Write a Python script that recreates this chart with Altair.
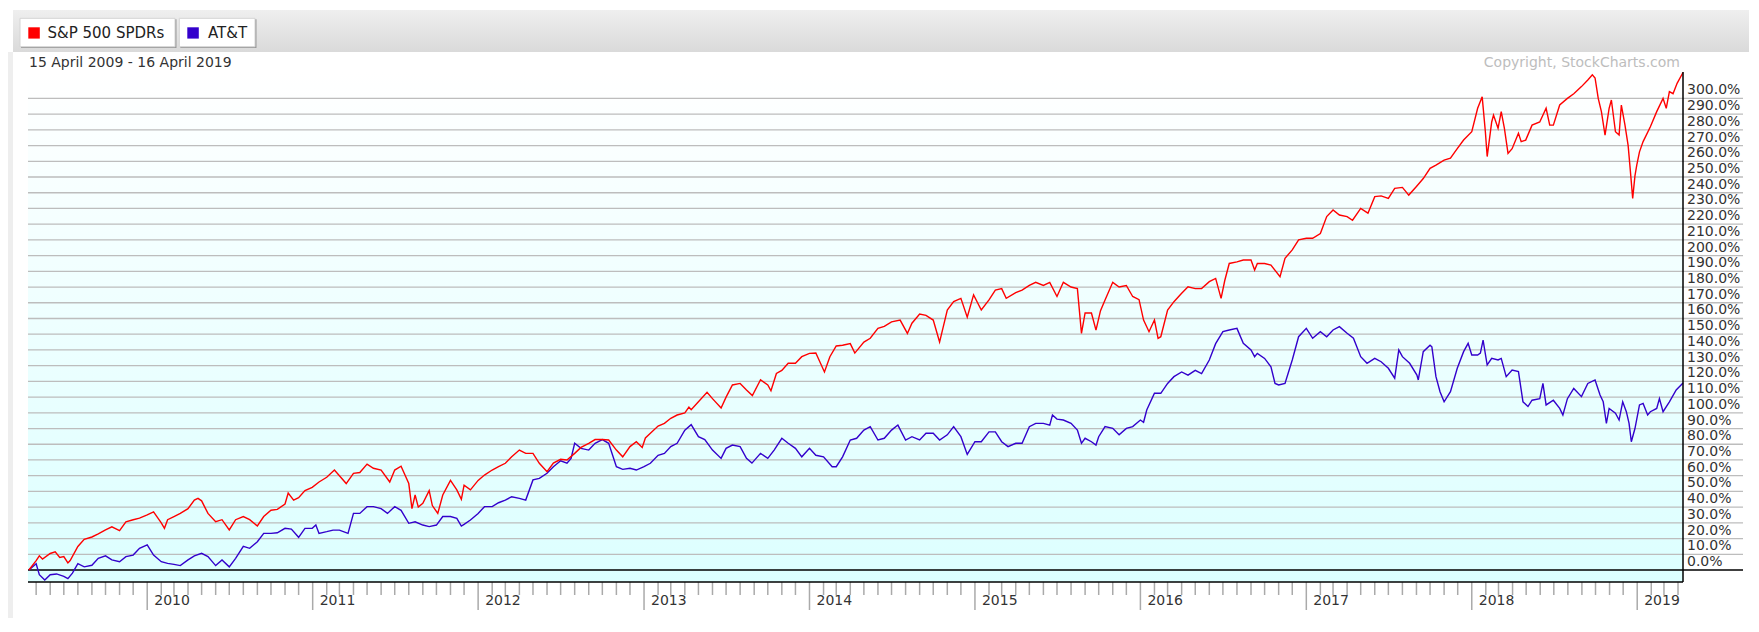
import altair as alt
import pandas as pd

# ---------------- data (percent change since 15 April 2009) ----------------
spx = [
    ("2009-04-15", 0), ("2009-05-01", 6), ("2009-05-08", 9), ("2009-05-15", 7), ("2009-06-01", 10.5),
    ("2009-06-12", 11.5), ("2009-06-22", 8), ("2009-07-01", 8.5), ("2009-07-10", 4.5), ("2009-07-15", 6),
    ("2009-08-01", 15), ("2009-08-15", 19.5), ("2009-09-01", 21), ("2009-09-15", 23), ("2009-10-01", 25.5),
    ("2009-10-15", 27.5), ("2009-11-01", 25), ("2009-11-15", 30.7), ("2009-12-01", 32), ("2009-12-15", 33),
    ("2010-01-01", 35), ("2010-01-15", 37), ("2010-02-01", 30), ("2010-02-08", 26.5), ("2010-02-15", 32),
    ("2010-03-01", 34), ("2010-03-15", 36), ("2010-04-01", 39), ("2010-04-15", 44.5), ("2010-04-23", 45.6),
    ("2010-05-01", 44), ("2010-05-15", 36), ("2010-06-01", 30.7), ("2010-06-15", 32), ("2010-07-01", 25.5),
    ("2010-07-15", 32), ("2010-08-01", 34), ("2010-08-15", 32), ("2010-09-01", 28), ("2010-09-15", 34),
    ("2010-10-01", 38), ("2010-10-15", 38.6), ("2010-11-01", 42), ("2010-11-08", 49), ("2010-11-20", 44.5),
    ("2010-12-01", 46), ("2010-12-15", 50.5), ("2010-12-31", 52.6),
    ("2011-01-15", 56), ("2011-02-01", 59), ("2011-02-18", 63.6), ("2011-03-01", 60), ("2011-03-16", 55),
    ("2011-04-01", 61.5), ("2011-04-15", 62), ("2011-05-01", 67.4), ("2011-05-15", 64.7), ("2011-06-01", 63.6),
    ("2011-06-20", 56), ("2011-07-01", 63.6), ("2011-07-15", 66), ("2011-08-01", 55), ("2011-08-08", 39),
    ("2011-08-15", 47.7), ("2011-08-22", 40), ("2011-09-01", 42.4), ("2011-09-15", 50.5), ("2011-09-22", 41),
    ("2011-10-04", 36), ("2011-10-15", 47.7), ("2011-11-01", 57), ("2011-11-15", 51), ("2011-11-25", 45),
    ("2011-12-01", 54), ("2011-12-15", 51),
    ("2012-01-01", 57), ("2012-01-15", 60.4), ("2012-02-01", 63.6), ("2012-02-15", 65.7), ("2012-03-01", 67.9),
    ("2012-03-15", 72), ("2012-04-01", 76.3), ("2012-04-15", 74.2), ("2012-05-01", 74.2), ("2012-05-15", 67.9),
    ("2012-06-01", 62.5), ("2012-06-15", 68), ("2012-07-01", 70.4), ("2012-07-15", 70), ("2012-08-01", 74.2),
    ("2012-08-15", 78), ("2012-09-01", 80.6), ("2012-09-15", 83), ("2012-10-01", 83), ("2012-10-15", 82.7),
    ("2012-11-01", 76.3), ("2012-11-15", 72), ("2012-12-01", 78.5), ("2012-12-15", 81.6), ("2012-12-28", 78),
    ("2013-01-04", 84), ("2013-01-15", 87), ("2013-02-01", 91.6), ("2013-02-15", 93.3), ("2013-03-01", 96.5),
    ("2013-03-15", 98.6), ("2013-04-01", 100), ("2013-04-10", 103.6), ("2013-04-15", 102), ("2013-05-01", 107),
    ("2013-05-20", 113), ("2013-06-01", 109), ("2013-06-20", 103), ("2013-07-01", 110), ("2013-07-15", 117.7),
    ("2013-08-01", 118.7), ("2013-08-15", 114.5), ("2013-08-28", 111), ("2013-09-15", 121), ("2013-10-01", 117.7),
    ("2013-10-08", 114), ("2013-10-20", 125), ("2013-11-01", 127), ("2013-11-15", 131.5), ("2013-12-01", 131.5),
    ("2013-12-15", 135.7),
    ("2014-01-01", 137.8), ("2014-01-15", 138), ("2014-02-03", 126), ("2014-02-15", 135.7), ("2014-03-01", 142.5),
    ("2014-03-15", 143), ("2014-04-01", 144), ("2014-04-11", 138), ("2014-05-01", 145), ("2014-05-15", 147.4),
    ("2014-06-01", 153.7), ("2014-06-15", 155), ("2014-07-01", 157.9), ("2014-07-20", 159), ("2014-08-05", 150.5),
    ("2014-08-15", 157), ("2014-09-01", 162.8), ("2014-09-15", 162), ("2014-10-01", 159), ("2014-10-15", 145),
    ("2014-11-01", 165.4), ("2014-11-15", 170.7), ("2014-12-01", 172.8), ("2014-12-15", 160.8), ("2014-12-29", 175),
    ("2015-01-15", 165.4), ("2015-02-01", 171.8), ("2015-02-15", 178), ("2015-03-01", 179), ("2015-03-11", 172.8),
    ("2015-04-01", 176.5), ("2015-04-15", 178), ("2015-05-01", 181), ("2015-05-15", 183), ("2015-06-01", 181),
    ("2015-06-15", 183), ("2015-07-01", 174), ("2015-07-15", 183), ("2015-08-01", 180), ("2015-08-15", 179),
    ("2015-08-24", 150.5), ("2015-09-01", 163.5), ("2015-09-15", 163.5), ("2015-09-25", 152.6), ("2015-10-05", 165),
    ("2015-10-15", 171.8), ("2015-11-01", 183), ("2015-11-15", 180), ("2015-12-01", 181), ("2015-12-15", 174),
    ("2015-12-29", 172),
    ("2016-01-08", 159), ("2016-01-20", 151.6), ("2016-02-01", 159), ("2016-02-09", 147.4), ("2016-02-15", 148.4),
    ("2016-03-01", 165.4), ("2016-03-15", 170.7), ("2016-04-01", 176), ("2016-04-15", 180.2), ("2016-05-01", 179),
    ("2016-05-15", 179), ("2016-06-01", 183.4), ("2016-06-15", 185.5), ("2016-06-27", 172.8), ("2016-07-05", 184),
    ("2016-07-15", 195), ("2016-08-01", 196), ("2016-08-15", 197.2), ("2016-09-01", 197.2), ("2016-09-09", 190.8),
    ("2016-09-15", 195), ("2016-10-01", 195), ("2016-10-15", 194), ("2016-11-04", 186.6), ("2016-11-15", 198.3),
    ("2016-12-01", 203.6), ("2016-12-15", 210),
    ("2017-01-01", 211), ("2017-01-15", 211), ("2017-02-01", 214), ("2017-02-15", 224.8), ("2017-03-01", 229),
    ("2017-03-15", 225.8), ("2017-04-01", 224.8), ("2017-04-13", 222.5), ("2017-05-01", 230), ("2017-05-17", 227),
    ("2017-06-01", 237.5), ("2017-06-15", 238), ("2017-07-01", 236.4), ("2017-07-15", 242.8), ("2017-08-01", 243.4),
    ("2017-08-15", 238.5), ("2017-09-01", 244), ("2017-09-16", 249), ("2017-10-01", 255.5), ("2017-10-14", 257.6),
    ("2017-11-01", 260.8), ("2017-11-15", 262), ("2017-11-30", 268), ("2017-12-14", 273.5),
    ("2018-01-01", 278.8), ("2018-01-14", 293.7), ("2018-01-24", 301), ("2018-01-31", 278.8), ("2018-02-04", 263),
    ("2018-02-14", 285), ("2018-02-18", 289.4), ("2018-02-28", 281), ("2018-03-07", 291.6), ("2018-03-14", 281),
    ("2018-03-22", 265), ("2018-03-31", 268), ("2018-04-14", 277.8), ("2018-04-20", 272.5), ("2018-04-30", 273.5),
    ("2018-05-14", 283), ("2018-05-31", 285), ("2018-06-14", 293.7), ("2018-06-22", 283), ("2018-06-30", 283),
    ("2018-07-14", 295.8), ("2018-07-31", 300), ("2018-08-14", 303), ("2018-08-31", 307.5), ("2018-09-14", 311.7),
    ("2018-09-24", 315), ("2018-09-30", 313), ("2018-10-07", 300), ("2018-10-14", 291.6), ("2018-10-22", 276.7),
    ("2018-10-31", 293.7), ("2018-11-05", 299), ("2018-11-14", 278.8), ("2018-11-22", 276.7), ("2018-11-27", 295.8),
    ("2018-12-05", 283), ("2018-12-12", 270), ("2018-12-17", 253.4), ("2018-12-22", 236.4), ("2018-12-27", 250.7),
    ("2018-12-31", 257.6),
    ("2019-01-06", 266), ("2019-01-14", 272.5), ("2019-01-30", 282), ("2019-02-13", 291.6), ("2019-02-27", 300),
    ("2019-03-06", 293.7), ("2019-03-13", 304.3), ("2019-03-21", 303), ("2019-03-30", 309.6), ("2019-04-12", 316.5),
]

att = [
    ("2009-04-15", 0), ("2009-05-01", 4), ("2009-05-08", -3), ("2009-05-20", -6.4), ("2009-06-01", -3),
    ("2009-06-15", -2.5), ("2009-07-01", -4), ("2009-07-10", -5.5), ("2009-07-20", -2), ("2009-08-01", 4),
    ("2009-08-15", 2), ("2009-09-01", 3), ("2009-09-15", 7.4), ("2009-10-01", 9), ("2009-10-15", 6.4),
    ("2009-11-01", 5.3), ("2009-11-15", 8.5), ("2009-12-01", 9.5), ("2009-12-15", 13.8),
    ("2010-01-01", 16), ("2010-01-15", 9.5), ("2010-02-01", 5.3), ("2010-02-15", 4.2), ("2010-03-01", 3.6),
    ("2010-03-15", 2.8), ("2010-04-01", 6.4), ("2010-04-15", 9), ("2010-05-01", 10.6), ("2010-05-15", 8.5),
    ("2010-06-01", 2.8), ("2010-06-15", 6.4), ("2010-07-01", 2), ("2010-07-15", 7.4), ("2010-08-01", 15),
    ("2010-08-15", 13.8), ("2010-09-01", 18), ("2010-09-15", 23.3), ("2010-10-01", 23.3), ("2010-10-15", 23.7),
    ("2010-11-01", 26.5), ("2010-11-15", 26), ("2010-12-01", 20.8), ("2010-12-15", 26.5), ("2010-12-31", 26.5),
    ("2011-01-08", 28.6), ("2011-01-15", 23.3), ("2011-02-01", 24.4), ("2011-02-15", 25.4), ("2011-03-01", 25.4),
    ("2011-03-20", 23.3), ("2011-04-01", 36), ("2011-04-15", 36), ("2011-05-01", 40.3), ("2011-05-15", 40.3),
    ("2011-06-01", 39), ("2011-06-15", 36), ("2011-07-01", 40.3), ("2011-07-15", 38), ("2011-08-01", 29.7),
    ("2011-08-15", 30.7), ("2011-09-01", 28.6), ("2011-09-15", 27.6), ("2011-10-01", 28.6), ("2011-10-15", 34),
    ("2011-11-01", 34), ("2011-11-15", 32.9), ("2011-11-25", 28), ("2011-12-01", 29), ("2011-12-15", 31.8),
    ("2012-01-01", 36), ("2012-01-15", 40.3), ("2012-02-01", 40.3), ("2012-02-15", 42.8), ("2012-03-01", 44.5),
    ("2012-03-15", 46.6), ("2012-04-01", 45.6), ("2012-04-15", 44.5), ("2012-05-01", 57.3), ("2012-05-15", 58.3),
    ("2012-06-01", 61.5), ("2012-06-15", 65.7), ("2012-07-01", 69.5), ("2012-07-15", 67.9), ("2012-07-24", 71),
    ("2012-08-01", 80.6), ("2012-08-15", 77.4), ("2012-09-01", 76.3), ("2012-09-15", 80.6), ("2012-10-01", 83),
    ("2012-10-15", 80.6), ("2012-11-01", 65.7), ("2012-11-15", 64), ("2012-12-01", 64.7), ("2012-12-15", 63.6),
    ("2013-01-01", 65.7), ("2013-01-15", 67.9), ("2013-02-01", 73), ("2013-02-15", 74.2), ("2013-03-01", 78.5),
    ("2013-03-15", 80.6), ("2013-04-01", 89), ("2013-04-15", 92.5), ("2013-05-01", 84.8), ("2013-05-15", 83),
    ("2013-06-01", 76.3), ("2013-06-20", 71), ("2013-07-01", 77.4), ("2013-07-15", 79.5), ("2013-08-01", 78.5),
    ("2013-08-15", 71), ("2013-08-27", 68), ("2013-09-15", 74.2), ("2013-10-01", 71), ("2013-10-15", 76.3),
    ("2013-11-01", 83.8), ("2013-11-15", 80.6), ("2013-12-01", 77.4), ("2013-12-15", 72),
    ("2014-01-01", 77.4), ("2014-01-15", 73), ("2014-02-01", 72), ("2014-02-20", 65.7), ("2014-03-01", 65.7),
    ("2014-03-15", 72), ("2014-04-01", 82.7), ("2014-04-15", 83.8), ("2014-05-01", 89), ("2014-05-15", 91.2),
    ("2014-06-01", 82.7), ("2014-06-15", 83.8), ("2014-07-01", 89), ("2014-07-15", 92.2), ("2014-08-01", 82.7),
    ("2014-08-15", 84.8), ("2014-09-01", 82.7), ("2014-09-15", 87), ("2014-10-01", 87), ("2014-10-15", 82.7),
    ("2014-11-01", 86), ("2014-11-15", 91.2), ("2014-12-01", 84.8), ("2014-12-15", 73.5),
    ("2015-01-01", 81.6), ("2015-01-15", 81.6), ("2015-02-01", 87.9), ("2015-02-15", 87.9), ("2015-03-01", 81.6),
    ("2015-03-15", 78.5), ("2015-04-01", 80.6), ("2015-04-15", 80.6), ("2015-05-01", 91.2), ("2015-05-15", 93.3),
    ("2015-06-01", 93.3), ("2015-06-15", 92.2), ("2015-06-21", 98.6), ("2015-07-01", 96), ("2015-07-15", 95.4),
    ("2015-08-01", 93.3), ("2015-08-15", 89), ("2015-08-24", 80.6), ("2015-09-01", 83.8), ("2015-09-15", 81.6),
    ("2015-09-25", 79.5), ("2015-10-01", 84.8), ("2015-10-15", 91.2), ("2015-11-01", 90.1), ("2015-11-15", 86),
    ("2015-12-01", 90.1), ("2015-12-15", 91.2),
    ("2016-01-01", 95.4), ("2016-01-08", 94), ("2016-01-15", 101.8), ("2016-02-01", 112.4), ("2016-02-15", 112.4),
    ("2016-03-01", 118.7), ("2016-03-15", 123), ("2016-04-01", 126), ("2016-04-15", 124), ("2016-05-01", 127),
    ("2016-05-15", 125), ("2016-06-01", 133.6), ("2016-06-15", 144), ("2016-07-01", 151.6), ("2016-07-15", 152.7),
    ("2016-08-01", 153.7), ("2016-08-15", 144.2), ("2016-09-01", 140), ("2016-09-09", 135.7), ("2016-09-15", 137.8),
    ("2016-10-01", 134.6), ("2016-10-15", 129.3), ("2016-10-24", 118.7), ("2016-11-01", 117.7), ("2016-11-15", 118.7),
    ("2016-12-01", 133.6), ("2016-12-15", 148.4),
    ("2017-01-01", 153.7), ("2017-01-15", 147.4), ("2017-02-01", 151.6), ("2017-02-15", 148.4), ("2017-03-01", 152.7),
    ("2017-03-15", 154.8), ("2017-04-01", 150.6), ("2017-04-15", 147.4), ("2017-05-01", 135.7), ("2017-05-15", 131.5),
    ("2017-06-01", 134.6), ("2017-06-15", 132.5), ("2017-07-01", 128.3), ("2017-07-15", 122), ("2017-07-24", 140),
    ("2017-08-01", 135.7), ("2017-08-17", 131.5), ("2017-09-02", 124), ("2017-09-05", 120.9), ("2017-09-16", 138.9),
    ("2017-10-01", 143), ("2017-10-05", 142), ("2017-10-14", 123), ("2017-10-23", 113.4), ("2017-11-01", 107),
    ("2017-11-15", 113.4), ("2017-11-30", 128.3), ("2017-12-14", 138.9), ("2017-12-24", 144.2),
    ("2018-01-01", 136.8), ("2018-01-14", 136.8), ("2018-01-20", 138), ("2018-01-26", 146.3), ("2018-02-04", 130.4),
    ("2018-02-14", 134.6), ("2018-02-28", 133.6), ("2018-03-07", 134.6), ("2018-03-18", 123), ("2018-03-31", 127.2),
    ("2018-04-14", 126.2), ("2018-04-24", 107), ("2018-05-05", 104), ("2018-05-14", 108), ("2018-05-31", 109),
    ("2018-06-07", 118.7), ("2018-06-14", 105), ("2018-06-30", 108), ("2018-07-14", 102.8), ("2018-07-21", 98.6),
    ("2018-07-31", 109), ("2018-08-14", 115.5), ("2018-08-31", 110.3), ("2018-09-14", 118.7), ("2018-09-30", 120.9),
    ("2018-10-11", 111.3), ("2018-10-18", 107), ("2018-10-25", 93.3), ("2018-10-31", 102.8), ("2018-11-14", 99.7),
    ("2018-11-22", 95.4), ("2018-11-30", 107), ("2018-12-08", 100.7), ("2018-12-14", 93.3), ("2018-12-19", 81.6),
    ("2018-12-27", 90),
    ("2019-01-06", 105), ("2019-01-14", 106), ("2019-01-24", 98.6), ("2019-01-30", 100.7), ("2019-02-13", 102.8),
    ("2019-02-19", 109), ("2019-02-27", 100.7), ("2019-03-13", 107), ("2019-03-28", 114.5), ("2019-04-12", 119),
]

series_names = ["S&P 500 SPDRs", "AT&T"]
series_colors = ["#ff0000", "#3300cc"]
y_grid_values = list(range(10, 301, 10))
y_label_values = list(range(0, 301, 10))
year_labels = [str(y) for y in range(2010, 2020)]
date_range_text = "15 April 2009 - 16 April 2019"
copyright_text = "Copyright, StockCharts.com"
x_domain = ["2009-04-13", "2019-04-12"]
y_domain = [-7.63, 316.8]

# ---------------- chart ----------------
W, H = 1655, 510
FONT = "DejaVu Sans"


def ms(s):
    return int(pd.Timestamp(s, tz="UTC").value // 10**6)


xscale = alt.Scale(domain=[ms(x_domain[0]), ms(x_domain[1])])
yscale = alt.Scale(domain=y_domain, nice=False, zero=False)
X = alt.X("date:T", scale=xscale, axis=None)

one = pd.DataFrame({"k": [0]})


def box(x, x2, y, y2, **mk):
    return alt.Chart(one).mark_rect(**mk).encode(
        x=alt.value(x), x2=alt.value(x2), y=alt.value(y), y2=alt.value(y2))


def label(x, y, text, **mk):
    return alt.Chart(one).mark_text(text=text, font=FONT, **mk).encode(x=alt.value(x), y=alt.value(y))


band = box(-15, W + 80, -62, -20, fill=alt.Gradient(
    gradient="linear", x1=0, x2=0, y1=0, y2=1,
    stops=[alt.GradientStop(offset=0, color="#efefef"), alt.GradientStop(offset=1, color="#dadada")]))
strip = box(-20, -15, -20, H + 60, fill="#eeeeee")

btn1_sh = box(-7, 148.5, -52.7, -24, fill="#9a9a9a")
btn1 = box(-8, 147, -53.7, -25.3, fill="#ffffff", stroke="#d4d4d4", strokeWidth=1)
btn2_sh = box(152.3, 228.5, -52.7, -24, fill="#9a9a9a")
btn2 = box(151.3, 227, -53.7, -25.3, fill="#ffffff", stroke="#d4d4d4", strokeWidth=1)
sq1 = box(0.3, 11.8, -44.7, -33.4, fill=series_colors[0])
sq2 = box(159.3, 170.8, -44.7, -33.4, fill=series_colors[1])
txt1 = label(19.5, -33.7, series_names[0], fontSize=15, color="#222222", align="left", baseline="alphabetic")
txt2 = label(180, -33.7, series_names[1], fontSize=15, color="#222222", align="left", baseline="alphabetic")
date_txt = label(1, -5.3, date_range_text, fontSize=14, color="#333333", align="left", baseline="alphabetic")
copy_txt = label(W - 3, -5.3, copyright_text, fontSize=14, color="#bdbdbd", align="right", baseline="alphabetic")

bg = box(0, W, 0, H, fill=alt.Gradient(
    gradient="linear", x1=0, x2=0, y1=0, y2=1,
    stops=[alt.GradientStop(offset=0, color="#ffffff"), alt.GradientStop(offset=1, color="#dcffff")]))

grid = alt.Chart(pd.DataFrame({"v": y_grid_values})).mark_rule(color="#bdbdbd", strokeWidth=1.3).encode(
    y=alt.Y("v:Q", scale=yscale, axis=None), x=alt.value(0), x2=alt.value(W + 60))

ylab_df = pd.DataFrame({"v": y_label_values, "lab": [f"{v:.1f}%" for v in y_label_values]})
ylab = alt.Chart(ylab_df).mark_text(align="left", baseline="alphabetic", dy=-4, fontSize=14,
                                    color="#333333", font=FONT).encode(
    y=alt.Y("v:Q", scale=yscale, axis=None), x=alt.value(W + 4), text="lab:N")

zero = alt.Chart(pd.DataFrame({"v": [0]})).mark_rule(color="#000000", strokeWidth=1.5).encode(
    y=alt.Y("v:Q", scale=yscale, axis=None), x=alt.value(0), x2=alt.value(W + 60))

months = pd.date_range("2009-05-01", "2019-04-01", freq="MS")
minor_dates = [d.strftime("%Y-%m-%d") for d in months if d.month != 1]
major_dates = [f"{y}-01-01" for y in year_labels]

tick_minor = alt.Chart(pd.DataFrame({"date": minor_dates})).mark_rule(color="#aaaaaa", strokeWidth=1.5).encode(
    x=X, y=alt.value(H), y2=alt.value(H + 13))
tick_major = alt.Chart(pd.DataFrame({"date": major_dates})).mark_rule(color="#aaaaaa", strokeWidth=1.5).encode(
    x=X, y=alt.value(H), y2=alt.value(H + 28))
year_text = alt.Chart(pd.DataFrame({"date": major_dates, "year": year_labels})).mark_text(
    align="left", baseline="alphabetic", dx=7, fontSize=14, color="#333333", font=FONT).encode(
    x=X, y=alt.value(H + 23), text="year:N")

att_df = pd.DataFrame(att, columns=["date", "pct"])
spx_df = pd.DataFrame(spx, columns=["date", "pct"])
line_att = alt.Chart(att_df).mark_line(color=series_colors[1], strokeWidth=1.4).encode(
    x=X, y=alt.Y("pct:Q", scale=yscale, axis=None))
line_spx = alt.Chart(spx_df).mark_line(color=series_colors[0], strokeWidth=1.4).encode(
    x=X, y=alt.Y("pct:Q", scale=yscale, axis=None))

border_r = alt.Chart(one).mark_rule(color="#000000", strokeWidth=1.5).encode(
    x=alt.value(W), y=alt.value(0), y2=alt.value(H))
border_b = alt.Chart(one).mark_rule(color="#000000", strokeWidth=1.5).encode(
    y=alt.value(H), x=alt.value(0), x2=alt.value(W))

chart = alt.layer(
    band, strip, btn1_sh, btn1, btn2_sh, btn2, sq1, sq2, txt1, txt2, date_txt, copy_txt,
    bg, grid, ylab, zero, tick_minor, tick_major, year_text, line_att, line_spx, border_r, border_b,
).properties(
    width=W, height=H,
    padding={"left": 20, "top": 64, "right": 66, "bottom": 36},
    autosize=alt.AutoSizeParams(type="none"),
    background="#ffffff",
).configure_view(stroke=None)

chart.save("out.html", embed_options={"renderer": "svg", "actions": False})
